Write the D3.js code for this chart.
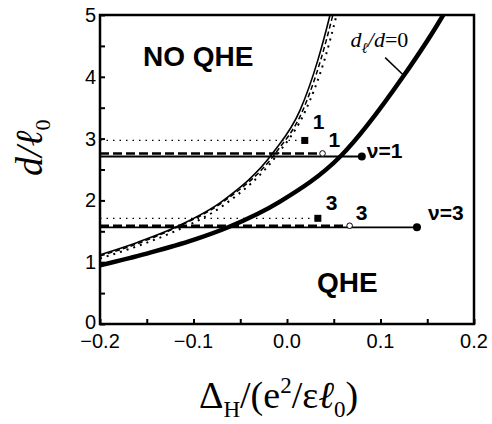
<!DOCTYPE html>
<html>
<head>
<meta charset="utf-8">
<script src="https://cdn.jsdelivr.net/npm/d3@7"></script>
<style>
  body { margin: 0; background: #fff; }
  .tick-label { font-family: "Liberation Sans", Arial, sans-serif; font-size: 20px; }
  .bold { font-family: "Liberation Sans", Arial, sans-serif; font-weight: bold; }
  .serif { font-family: "Liberation Serif", "Times New Roman", serif; }
</style>
</head>
<body>
<div id="vis-container"></div>
<script>
// curves: x = Delta_H, y = d/l0
var thickX = [-0.2, -0.15, -0.1, -0.063, -0.0075, 0.057, 0.124, 0.167, 0.18];
var thickY = [0.95, 1.14, 1.36, 1.565, 1.98, 2.71, 4.0, 5.0, 5.35];
var thinX = [-0.2, -0.16, -0.12, -0.068, -0.015, 0.014, 0.033, 0.046, 0.05];
var thinY = [1.12, 1.32, 1.56, 2.0, 2.77, 3.46, 4.27, 5.0, 5.25];
var dashX = [-0.2, -0.16, -0.12, -0.068, -0.012, 0.017, 0.036, 0.049, 0.053];
var dashY = [1.10, 1.30, 1.55, 1.98, 2.77, 3.46, 4.27, 5.0, 5.25];
var dotX = [-0.2, -0.16, -0.12, -0.068, -0.01, 0.02, 0.04, 0.053, 0.057];
var dotY = [1.06, 1.26, 1.50, 1.92, 2.75, 3.46, 4.27, 5.0, 5.25];

// horizontal levels for nu=1 and nu=3
var nuLabels = ["\u03bd=1", "\u03bd=3"];
var solidD = [2.71, 1.565];
var solidEnd = [0.08, 0.139];
var dashedD = [2.76, 1.59];
var dashedEnd = [0.038, 0.067];
var dottedD = [2.97, 1.71];
var dottedEnd = [0.019, 0.033];
var levelNames = ["1", "3"];

var xTicks = [-0.2, -0.1, 0.0, 0.1, 0.2];
var yTicks = [0, 1, 2, 3, 4, 5];

var width = 492, height = 424;
var margins = { top: 15, right: 18, bottom: 100, left: 100 };
var visWidth = width - margins.left - margins.right;
var visHeight = height - margins.top - margins.bottom;

var svg = d3.select("#vis-container").append("svg").attr("width", width).attr("height", height);
svg.append("defs").append("clipPath").attr("id", "clip")
    .append("rect").attr("width", visWidth).attr("height", visHeight);

var viewport = svg.append("g").attr("transform", "translate(" + margins.left + "," + margins.top + ")");

var x = d3.scaleLinear().domain([-0.2, 0.2]).range([0, visWidth]);
var y = d3.scaleLinear().domain([0, 5]).range([visHeight, 0]);

var plot = viewport.append("g").attr("clip-path", "url(#clip)");

function curvePath(xs, ys) {
    return d3.line()
        .x(function (d) { return x(d[0]); })
        .y(function (d) { return y(d[1]); })
        .curve(d3.curveMonotoneX)(d3.zip(xs, ys));
}

// horizontal level lines
solidD.forEach(function (d, i) {
    plot.append("line").attr("x1", x(-0.2)).attr("x2", x(dottedEnd[i]))
        .attr("y1", y(dottedD[i])).attr("y2", y(dottedD[i]))
        .attr("stroke", "#000").attr("stroke-width", 1.3).attr("stroke-dasharray", "1.5,5");
    plot.append("line").attr("x1", x(-0.2)).attr("x2", x(dashedEnd[i]))
        .attr("y1", y(dashedD[i])).attr("y2", y(dashedD[i]))
        .attr("stroke", "#000").attr("stroke-width", 2.6).attr("stroke-dasharray", "9,4");
    plot.append("line").attr("x1", x(-0.2)).attr("x2", x(solidEnd[i]))
        .attr("y1", y(d)).attr("y2", y(d))
        .attr("stroke", "#000").attr("stroke-width", 1.8);
});

// curves
plot.append("path").attr("d", curvePath(dotX, dotY)).attr("fill", "none")
    .attr("stroke", "#000").attr("stroke-width", 2).attr("stroke-dasharray", "2,5");
plot.append("path").attr("d", curvePath(dashX, dashY)).attr("fill", "none")
    .attr("stroke", "#000").attr("stroke-width", 1.5).attr("stroke-dasharray", "5,3");
plot.append("path").attr("d", curvePath(thinX, thinY)).attr("fill", "none")
    .attr("stroke", "#000").attr("stroke-width", 1.6);
plot.append("path").attr("d", curvePath(thickX, thickY)).attr("fill", "none")
    .attr("stroke", "#000").attr("stroke-width", 4.5);

// end markers
solidD.forEach(function (d, i) {
    viewport.append("circle").attr("cx", x(solidEnd[i])).attr("cy", y(d)).attr("r", 4).attr("fill", "#000");
    viewport.append("circle").attr("cx", x(dashedEnd[i])).attr("cy", y(dashedD[i])).attr("r", 2.8)
        .attr("fill", "#fff").attr("stroke", "#000").attr("stroke-width", 1);
    viewport.append("rect").attr("x", x(dottedEnd[i]) - 3.5).attr("y", y(dottedD[i]) - 3.5)
        .attr("width", 7).attr("height", 7).attr("fill", "#000");
    // small level numbers
    viewport.append("text").attr("class", "bold").attr("font-size", 21)
        .attr("x", x(dottedEnd[i]) + 8).attr("y", y(dottedD[i]) - 11 + (i === 1 ? 3 : 0)).text(levelNames[i]);
    viewport.append("text").attr("class", "bold").attr("font-size", 21)
        .attr("x", x(dashedEnd[i]) + 6).attr("y", y(dashedD[i]) - 6).text(levelNames[i]);
});
viewport.append("text").attr("class", "bold").attr("font-size", 21)
    .attr("x", x(solidEnd[0]) + 5).attr("y", y(solidD[0]) + 1).text(nuLabels[0]);
viewport.append("text").attr("class", "bold").attr("font-size", 21)
    .attr("x", x(solidEnd[1]) + 11).attr("y", y(solidD[1]) - 7).text(nuLabels[1]);

// region labels
viewport.append("text").attr("class", "bold").attr("font-size", 28)
    .attr("x", x(-0.154)).attr("y", y(4.18)).text("NO QHE");
viewport.append("text").attr("class", "bold").attr("font-size", 28)
    .attr("x", x(0.032)).attr("y", y(0.52)).text("QHE");

// d_l/d=0 label with pointer
var dl = viewport.append("text").attr("class", "serif").attr("font-style", "italic").attr("font-size", 22)
    .attr("x", x(0.068)).attr("y", y(4.49));
dl.append("tspan").text("d");
dl.append("tspan").attr("font-size", 15).attr("dy", 6).text("\u2113");
dl.append("tspan").attr("dy", -6).text("/d");
dl.append("tspan").attr("font-style", "normal").text("=0");
viewport.append("line").attr("x1", x(0.105)).attr("y1", y(4.31)).attr("x2", x(0.125)).attr("y2", y(4.02))
    .attr("stroke", "#000").attr("stroke-width", 1.5);

// frame
viewport.append("rect").attr("width", visWidth).attr("height", visHeight)
    .attr("fill", "none").attr("stroke", "#000").attr("stroke-width", 2.5);

// axes with inward ticks
var xAxis = viewport.append("g").attr("transform", "translate(0," + visHeight + ")")
    .call(d3.axisTop(x).tickValues(d3.range(-0.2, 0.2001, 0.05)).tickSize(5).tickFormat(""));
xAxis.select(".domain").remove();
xAxis.selectAll("line").attr("stroke-width", 2);
var yAxis = viewport.append("g")
    .call(d3.axisRight(y).tickValues(d3.range(0, 5.001, 0.5)).tickSize(5).tickFormat(""));
yAxis.select(".domain").remove();
yAxis.selectAll("line").attr("stroke-width", 2);

viewport.selectAll(".xlab").data(xTicks).enter().append("text")
    .attr("class", "tick-label").attr("text-anchor", "middle")
    .attr("x", function (d) { return x(d); }).attr("y", visHeight + 24)
    .text(function (d) { return d3.format(".1f")(d); });
viewport.selectAll(".ylab").data(yTicks).enter().append("text")
    .attr("class", "tick-label").attr("text-anchor", "end")
    .attr("x", -4).attr("y", function (d) { return y(d) + (d === 0 ? 5 : 7); })
    .text(function (d) { return d; });

// axis titles
var xt = svg.append("text").attr("class", "serif").attr("font-size", 38)
    .attr("x", 199).attr("y", 408);
xt.append("tspan").text("\u0394");
xt.append("tspan").attr("font-size", 23).attr("dy", 9).text("H");
xt.append("tspan").attr("dy", -9).text("/(e");
xt.append("tspan").attr("font-size", 23).attr("dy", -15).text("2");
xt.append("tspan").attr("dy", 15).text("/\u03b5");
xt.append("tspan").attr("font-style", "italic").text("\u2113");
xt.append("tspan").attr("font-size", 23).attr("dy", 9).text("0");
xt.append("tspan").attr("dy", -9).text(")");

var yt = svg.append("text").attr("class", "serif").attr("font-size", 38).attr("font-style", "italic")
    .attr("transform", "translate(42,176) rotate(-90)");
yt.append("tspan").text("d/\u2113");
yt.append("tspan").attr("font-size", 22).attr("font-style", "normal").attr("dy", 8).text("0");
</script>
</body>
</html>
